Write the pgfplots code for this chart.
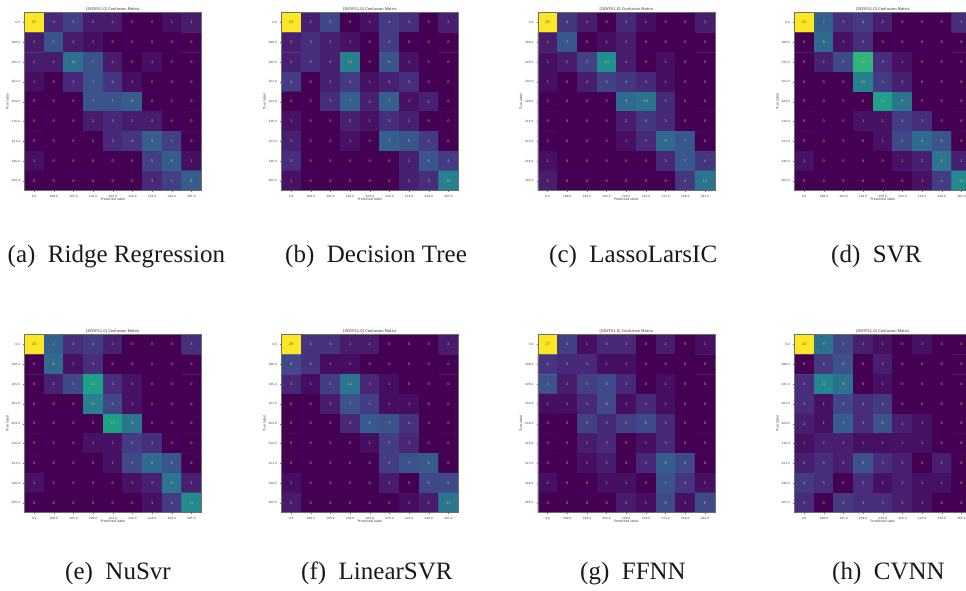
\documentclass[border=0pt]{standalone}
\usepackage{pgfplots}
\usepackage{pgfplotstable}
\usepackage{fontspec}
\pgfplotsset{compat=1.18}
\setmainfont{DejaVu Sans}
\newfontfamily\capfont{Liberation Serif}
\fontsize{3}{3.6}\selectfont

\definecolor{annot}{RGB}{215,180,100}
\definecolor{annotdark}{RGB}{90,85,50}
\definecolor{framec}{RGB}{110,110,110}

\pgfplotstableread{
x y a b c d e f g h
0 0 27 23 26 23 23 28 27 24
1 0 3 2 4 7 7 4 5 9
2 0 5 5 2 3 3 4 1 5
3 0 2 0 0 4 4 2 3 2
4 0 2 1 3 2 2 2 3 1
5 0 0 4 1 0 0 0 0 0
6 0 0 3 0 0 0 0 2 1
7 0 1 0 0 0 0 0 0 0
8 0 2 2 2 3 3 2 1 0
0 1 2 2 2 0 0 6 4 0
1 1 7 3 7 8 8 4 3 4
2 1 2 2 0 1 1 1 3 6
3 1 1 1 1 3 3 1 1 0
4 1 0 0 2 0 0 0 1 2
5 1 0 4 0 0 0 0 0 0
6 1 0 0 0 0 0 0 0 0
7 1 0 0 0 0 0 0 0 0
8 1 0 0 0 0 0 0 0 0
0 2 2 2 1 0 0 3 7 3
1 2 2 3 2 2 2 1 2 11
2 2 10 2 5 5 5 5 5 9
3 2 7 10 13 15 13 11 6 0
4 2 2 0 2 3 3 3 3 1
5 2 0 6 0 1 1 1 0 0
6 2 1 1 1 0 0 0 1 0
7 2 0 0 0 0 0 0 0 0
8 2 0 0 0 0 0 0 0 0
0 3 1 4 1 0 0 0 1 3
1 3 0 0 0 0 0 0 1 1
2 3 3 2 2 0 0 2 3 5
3 3 7 4 5 10 10 7 6 3
4 3 4 1 4 4 5 5 1 4
5 3 1 2 3 2 1 1 3 0
6 3 0 3 1 0 0 1 1 0
7 3 0 0 0 0 0 0 0 0
8 3 0 0 0 0 0 0 0 0
0 4 0 0 0 0 0 0 0 2
1 4 0 0 0 0 0 0 0 1
2 4 0 3 0 0 0 0 5 7
3 4 7 7 0 0 0 3 3 3
4 4 7 2 9 13 13 8 5 6
5 4 8 7 10 9 9 7 6 2
6 4 0 1 3 0 0 4 3 1
7 4 0 2 0 0 0 0 0 0
8 4 0 0 0 0 0 0 0 0
0 5 0 1 0 0 0 0 0 1
1 5 0 0 0 0 0 0 0 2
2 5 0 0 0 0 0 0 2 2
3 5 2 2 0 1 1 0 3 1
4 5 3 1 2 1 1 1 0 1
5 5 2 3 4 4 4 5 1 1
6 5 2 2 3 3 3 3 3 1
7 5 0 0 0 0 0 0 0 0
8 5 0 0 0 0 0 0 0 0
0 6 0 2 0 0 0 0 0 2
1 6 0 0 0 0 0 0 0 3
2 6 0 0 0 0 0 0 1 2
3 6 0 1 0 0 0 0 2 6
4 6 3 0 1 1 1 0 0 3
5 6 4 7 3 5 5 5 3 2
6 6 8 6 9 8 8 7 8 0
7 6 5 4 7 6 6 8 6 2
8 6 0 0 0 0 0 0 0 0
0 7 1 3 1 1 1 1 1 4
1 7 0 0 0 0 0 0 0 3
2 7 0 0 0 0 0 0 0 0
3 7 0 0 0 0 0 0 1 3
4 7 0 0 0 0 0 0 1 1
5 7 0 0 0 1 1 2 0 2
6 7 5 2 3 2 2 0 7 1
7 7 8 6 7 9 9 6 4 1
8 7 1 4 4 2 2 6 1 0
0 8 0 1 2 0 0 2 0 3
1 8 0 0 0 0 0 0 0 0
2 8 0 0 0 0 0 0 0 4
3 8 0 0 0 0 0 0 0 3
4 8 0 0 0 0 0 0 2 3
5 8 0 0 0 0 0 0 1 2
6 8 3 2 0 1 1 1 6 1
7 8 5 3 4 4 4 2 1 0
8 8 8 10 10 11 11 11 6 0
}\cmdata

\pgfplotsset{
  cmstyle/.style={
    scale only axis,
    anchor=south west,
    xmin=-0.5, xmax=8.5, ymin=-0.5, ymax=8.5,
    y dir=reverse,
    axis on top,
    colormap/viridis,
    point meta min=0,
    xtick={0,...,8}, ytick={0,...,8},
    xticklabels={0.0,188.0,195.0,202.0,209.0,216.0,223.0,246.0,265.0},
    yticklabels={0.0,188.0,195.0,202.0,209.0,216.0,223.0,246.0,265.0},
    tick align=outside,
    major tick length=1.2pt,
    tick style={draw=framec,line width=0.3pt},
    axis line style={draw=framec,line width=0.45pt},
    tick label style={font=\fontsize{2.9}{3.4}\selectfont,text=black!75},
    xticklabel style={yshift=0.4pt},
    yticklabel style={xshift=0.3pt},
    xlabel={Predicted label}, ylabel={True label},
    title={[DOYFS1.0] Confusion Matrix},
    every axis title/.style={at={(axis description cs:0.5,1.019)},anchor=center,font=\fontsize{3.7}{4}\selectfont,text=black!80},
    every axis x label/.style={at={(axis description cs:0.5,-0.047)},anchor=center,font=\fontsize{3.3}{4}\selectfont,text=black!75},
    every axis y label/.style={at={(axis description cs:-0.096,0.5)},anchor=center,rotate=90,font=\fontsize{3.3}{4}\selectfont,text=black!75},
  },
  /pgf/number format/assume math mode=true,
}

\newcommand{\cm}[2]{%
  \begin{axis}[cmstyle, width=177pt, height=178pt, at={(#1)}]
    \addplot[matrix plot*, mesh/cols=9, point meta=\thisrow{#2}]
      table[x=x, y=y]{\cmdata};
    \addplot[draw=none, mark=none, point meta=\thisrow{#2},
      nodes near coords={\ifdim\pgfplotspointmetatransformed pt>999pt\color{annotdark}\fi\pgfmathprintnumber{\pgfplotspointmeta}},
      nodes near coords align=center,
      every node near coord/.style={font=\fontsize{3.5}{3.5}\selectfont,text=annot,inner sep=0pt}]
      table[x=x, y=y]{\cmdata};
  \end{axis}%
}

\begin{document}
\begin{tikzpicture}[x=1pt,y=1pt]
\path[use as bounding box] (0,0) rectangle (966,590);
\clip (0,0) rectangle (966,590);
\cm{24.3pt,399.3pt}{a}
\cm{281.3pt,399.3pt}{b}
\cm{537.8pt,399.3pt}{c}
\cm{794.3pt,399.3pt}{d}
\cm{24.3pt,77.3pt}{e}
\cm{281.3pt,77.3pt}{f}
\cm{537.8pt,77.3pt}{g}
\cm{794.3pt,77.3pt}{h}
\begin{scope}[every node/.style={anchor=base west,inner sep=0pt,font=\capfont\fontsize{25}{27}\selectfont,text=black!90}]
\node at (7.5,328) {(a)\enspace Ridge Regression};
\node at (285,328) {(b)\enspace Decision Tree};
\node at (549,328) {(c)\enspace LassoLarsIC};
\node at (831,328) {(d)\enspace SVR};
\node at (65,11) {(e)\enspace NuSvr};
\node at (301,11) {(f)\enspace LinearSVR};
\node at (580,11) {(g)\enspace FFNN};
\node at (832,11) {(h)\enspace CVNN};
\end{scope}
\end{tikzpicture}
\end{document}
